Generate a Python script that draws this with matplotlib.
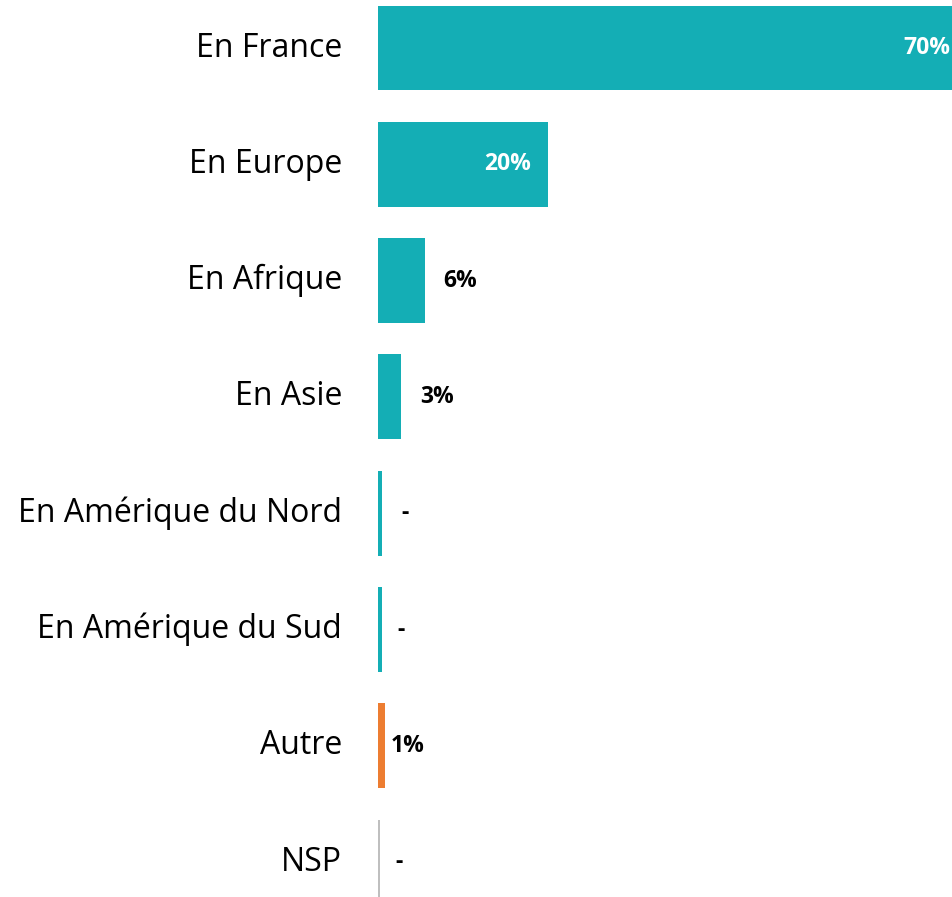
import matplotlib.pyplot as plt

categories = ['En France', 'En Europe', 'En Afrique', 'En Asie',
              'En Amérique du Nord', 'En Amérique du Sud', 'Autre', 'NSP']
values = [70, 20.7, 5.7, 2.8, 0.45, 0.45, 0.9, 0.2]
value_labels = ['70%', '20%', '6%', '3%', '-', '-', '1%', '-']
colors = ['#14AEB5'] * 6 + ['#ED7D31', '#BFBFBF']
# gap between bar end and label, in px
label_gap = [3, 17, 18, 19, 20, 16, 5, 16]

plt.rcParams['font.family'] = ['Open Sans', 'DejaVu Sans']

fig = plt.figure(figsize=(9.53, 8.97), dpi=100)
ax = fig.add_axes([378 / 953, 0, 1 - 378 / 953, 1])

pos = list(range(len(categories)))
ax.barh(pos, values, height=0.73, color=colors)

ax.set_xlim(0, 70)
ax.set_ylim(7.30, -0.413)
ax.axis('off')

px = 70 / 575  # data units per pixel
for i, (cat, v, lab) in enumerate(zip(categories, values, value_labels)):
    ax.text(-36 * px, i, cat, ha='right', va='center', fontsize=23, color='#000000')
    if v > 15:
        ax.text(v - label_gap[i] * px, i, lab, ha='right', va='center', fontsize=16.5,
                fontweight='bold', color='white')
    else:
        ax.text(v + label_gap[i] * px, i, lab, ha='left', va='center', fontsize=16.5,
                fontweight='bold', color='black')

fig.savefig('out.png', dpi=100)
